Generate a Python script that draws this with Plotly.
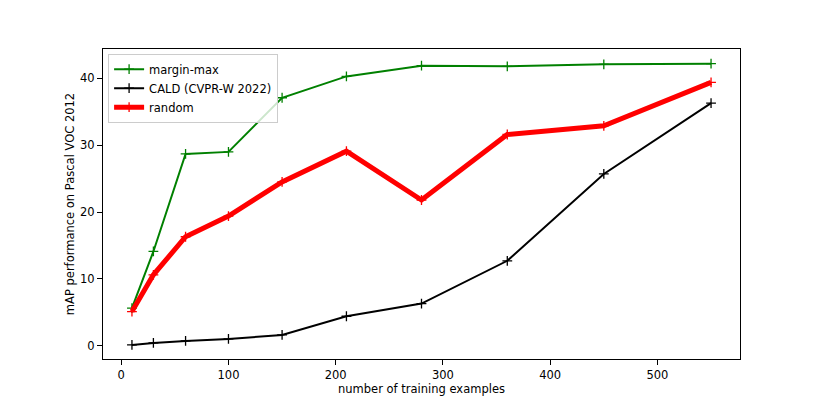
import plotly.graph_objects as go

# training set sizes
n_examples = [10, 30, 60, 100, 150, 210, 280, 360, 450, 550]

# mAP on Pascal VOC 2012
margin_max = [5.6, 14.1, 28.7, 29.0, 37.1, 40.3, 41.9, 41.8, 42.1, 42.2]
cald = [0.1, 0.4, 0.7, 1.0, 1.6, 4.4, 6.3, 12.7, 25.7, 36.3]
random_sel = [5.1, 10.6, 16.3, 19.4, 24.5, 29.1, 21.8, 31.6, 32.9, 39.4]

series = [
    ("margin-max", margin_max, "green", 2),
    ("CALD (CVPR-W 2022)", cald, "black", 2),
    ("random", random_sel, "red", 5),
]

fig = go.Figure()
for name, vals, col, w in series:
    fig.add_trace(go.Scatter(
        x=n_examples, y=vals, name=name, mode="lines+markers",
        line=dict(color=col, width=w),
        marker=dict(symbol="cross-thin", size=7, line=dict(color=col, width=1.3)),
    ))

axis_style = dict(
    showline=True, linecolor="black", linewidth=1, mirror=True,
    ticks="outside", ticklen=5, tickcolor="black", showgrid=False, zeroline=False,
    tickfont=dict(size=11.5, color="black"),
)

# page body adds 8px, so the figure is 8px smaller and margins shifted
fig.update_layout(
    width=814, height=403,
    margin=dict(l=95, r=82, t=41, b=52),
    plot_bgcolor="white", paper_bgcolor="white",
    font=dict(family="DejaVu Sans", color="black", size=11.5),
    xaxis=dict(axis_style, range=[-17, 577], tickvals=[0, 100, 200, 300, 400, 500],
               title=dict(text="number of training examples", font=dict(size=11.5), standoff=4)),
    yaxis=dict(axis_style, range=[-2.0, 44.4], tickvals=[0, 10, 20, 30, 40],
               title=dict(text="mAP performance on Pascal VOC 2012", font=dict(size=11.5), standoff=3)),
    legend=dict(x=0.008, y=0.985, xanchor="left", yanchor="top",
                bgcolor="rgba(255,255,255,0.8)", bordercolor="#cccccc", borderwidth=1,
                font=dict(size=11.5), tracegroupgap=0),
    showlegend=True,
)

fig.write_html("out.html")
